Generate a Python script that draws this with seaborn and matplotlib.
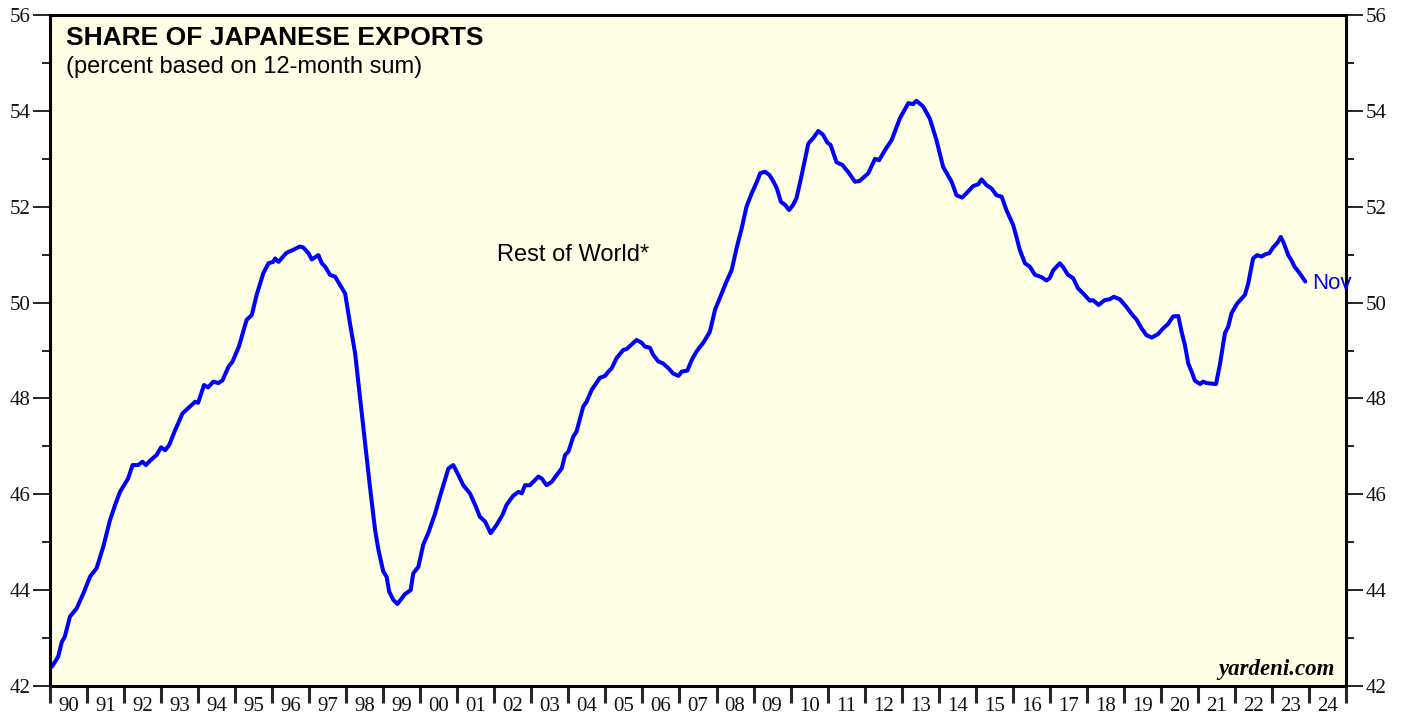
import matplotlib
matplotlib.use('Agg')
import matplotlib.pyplot as plt
import seaborn as sns
import pandas as pd
from matplotlib.ticker import MultipleLocator

# Rest of World share of Japanese exports (decimal years)
years = [
    1990.00, 1990.05, 1990.22, 1990.32, 1990.40, 1990.54, 1990.72, 1990.90, 1991.08, 1991.26,
    1991.44, 1991.62, 1991.76, 1991.89, 1992.11, 1992.23, 1992.38, 1992.50, 1992.59, 1992.70,
    1992.88, 1993.00, 1993.11, 1993.22, 1993.38, 1993.58, 1993.78, 1993.92, 1994.00, 1994.16,
    1994.27, 1994.41, 1994.55, 1994.66, 1994.82, 1994.93, 1995.10, 1995.31, 1995.45, 1995.58,
    1995.76, 1995.90, 1996.03, 1996.08, 1996.17, 1996.39, 1996.57, 1996.75, 1996.84, 1996.98,
    1997.07, 1997.25, 1997.34, 1997.43, 1997.56, 1997.70, 1997.83, 1997.97, 1998.10, 1998.24,
    1998.37, 1998.51, 1998.64, 1998.78, 1998.87, 1999.00, 1999.09, 1999.16, 1999.27, 1999.38,
    1999.50, 1999.59, 1999.74, 1999.81, 1999.95, 2000.08, 2000.22, 2000.40, 2000.53, 2000.64,
    2000.76, 2000.89, 2001.03, 2001.16, 2001.34, 2001.48, 2001.61, 2001.75, 2001.90, 2002.06,
    2002.22, 2002.33, 2002.51, 2002.65, 2002.74, 2002.83, 2002.96, 2003.05, 2003.19, 2003.28,
    2003.41, 2003.55, 2003.68, 2003.82, 2003.91, 2004.00, 2004.13, 2004.22, 2004.40, 2004.49,
    2004.63, 2004.85, 2004.99, 2005.08, 2005.17, 2005.30, 2005.48, 2005.57, 2005.71, 2005.84,
    2005.98, 2006.07, 2006.20, 2006.29, 2006.43, 2006.56, 2006.70, 2006.83, 2006.97, 2007.06,
    2007.21, 2007.33, 2007.46, 2007.64, 2007.82, 2007.96, 2008.14, 2008.27, 2008.41, 2008.54,
    2008.68, 2008.81, 2008.95, 2009.09, 2009.18, 2009.31, 2009.43, 2009.54, 2009.63, 2009.74,
    2009.85, 2009.96, 2010.07, 2010.16, 2010.30, 2010.48, 2010.61, 2010.75, 2010.88, 2010.99,
    2011.08, 2011.24, 2011.40, 2011.56, 2011.74, 2011.87, 2012.10, 2012.28, 2012.39, 2012.55,
    2012.73, 2012.95, 2013.18, 2013.31, 2013.40, 2013.58, 2013.76, 2013.94, 2014.12, 2014.35,
    2014.48, 2014.63, 2014.75, 2014.93, 2015.07, 2015.16, 2015.29, 2015.43, 2015.56, 2015.70,
    2015.83, 2016.01, 2016.10, 2016.19, 2016.33, 2016.46, 2016.60, 2016.78, 2016.91, 2017.00,
    2017.09, 2017.27, 2017.36, 2017.49, 2017.63, 2017.76, 2017.94, 2018.08, 2018.17, 2018.32,
    2018.48, 2018.62, 2018.73, 2018.89, 2019.07, 2019.21, 2019.34, 2019.48, 2019.61, 2019.75,
    2019.92, 2020.06, 2020.19, 2020.33, 2020.47, 2020.56, 2020.65, 2020.74, 2020.83, 2020.92,
    2021.06, 2021.14, 2021.24, 2021.49, 2021.60, 2021.73, 2021.82, 2021.91, 2022.06, 2022.27,
    2022.36, 2022.49, 2022.60, 2022.72, 2022.83, 2022.93, 2023.03, 2023.14, 2023.24, 2023.32,
    2023.44, 2023.52, 2023.61, 2023.75, 2023.90,
]
share = [
    42.40, 42.40, 42.61, 42.92, 43.03, 43.45, 43.62, 43.93, 44.28, 44.46,
    44.91, 45.46, 45.78, 46.05, 46.33, 46.61, 46.61, 46.68, 46.61, 46.70,
    46.82, 46.98, 46.92, 47.03, 47.34, 47.69, 47.83, 47.93, 47.91, 48.28,
    48.23, 48.35, 48.32, 48.38, 48.66, 48.77, 49.08, 49.64, 49.74, 50.16,
    50.61, 50.82, 50.85, 50.92, 50.85, 51.04, 51.10, 51.17, 51.15, 51.03,
    50.90, 50.99, 50.82, 50.75, 50.58, 50.54, 50.37, 50.19, 49.57, 48.94,
    48.04, 47.06, 46.16, 45.25, 44.84, 44.39, 44.28, 43.97, 43.80, 43.71,
    43.83, 43.92, 44.00, 44.35, 44.49, 44.95, 45.20, 45.60, 45.95, 46.23,
    46.54, 46.61, 46.40, 46.19, 46.02, 45.78, 45.53, 45.43, 45.19, 45.36,
    45.57, 45.78, 45.97, 46.05, 46.02, 46.19, 46.19, 46.26, 46.37, 46.33,
    46.19, 46.26, 46.40, 46.54, 46.82, 46.89, 47.20, 47.31, 47.83, 47.93,
    48.18, 48.43, 48.47, 48.56, 48.63, 48.84, 49.01, 49.03, 49.13, 49.22,
    49.16, 49.08, 49.06, 48.91, 48.77, 48.73, 48.63, 48.52, 48.47, 48.56,
    48.58, 48.80, 48.98, 49.16, 49.39, 49.85, 50.19, 50.44, 50.68, 51.13,
    51.55, 52.00, 52.28, 52.52, 52.70, 52.73, 52.66, 52.52, 52.38, 52.10,
    52.04, 51.93, 52.04, 52.18, 52.66, 53.32, 53.43, 53.58, 53.50, 53.34,
    53.29, 52.93, 52.87, 52.72, 52.52, 52.54, 52.70, 53.00, 52.97, 53.18,
    53.39, 53.84, 54.16, 54.14, 54.21, 54.09, 53.84, 53.39, 52.83, 52.52,
    52.24, 52.19, 52.28, 52.43, 52.47, 52.57, 52.45, 52.38, 52.24, 52.21,
    51.93, 51.62, 51.37, 51.10, 50.82, 50.75, 50.58, 50.53, 50.46, 50.51,
    50.67, 50.82, 50.74, 50.58, 50.51, 50.30, 50.16, 50.04, 50.05, 49.95,
    50.05, 50.07, 50.12, 50.07, 49.91, 49.76, 49.65, 49.46, 49.32, 49.27,
    49.34, 49.46, 49.55, 49.71, 49.72, 49.39, 49.11, 48.73, 48.56, 48.37,
    48.30, 48.35, 48.32, 48.30, 48.73, 49.36, 49.50, 49.78, 49.98, 50.16,
    50.40, 50.92, 50.99, 50.96, 51.01, 51.03, 51.15, 51.24, 51.37, 51.24,
    50.99, 50.89, 50.75, 50.61, 50.44,
]
year_labels = ['90', '91', '92', '93', '94', '95', '96', '97', '98', '99',
               '00', '01', '02', '03', '04', '05', '06', '07', '08', '09',
               '10', '11', '12', '13', '14', '15', '16', '17', '18', '19',
               '20', '21', '22', '23', '24']

df = pd.DataFrame({'year': years, 'share': share})

sns.set_style('ticks')
serif = 'Liberation Serif'
sans = 'Liberation Sans'

fig = plt.figure(figsize=(14.05, 7.17), dpi=100)
ax = fig.add_axes([50 / 1405, 1 - 686 / 717, 1296 / 1405, 671 / 717])
ax.set_facecolor('#FFFFE6')

sns.lineplot(data=df, x='year', y='share', ax=ax, color='#0000FF', linewidth=2.9,
             estimator=None, sort=False)
ax.lines[0].set_solid_capstyle('round')

ax.set_xlim(1990, 2025)
ax.set_ylim(42, 56)
ax.set_xlabel('')
ax.set_ylabel('')

# y axis: labelled every 2, minor every 1, on both sides
ax.yaxis.set_major_locator(MultipleLocator(2))
ax.yaxis.set_minor_locator(MultipleLocator(1))
ax.tick_params(axis='y', which='both', left=True, right=True, labelleft=True,
               labelright=True, direction='out', width=1.2, color='black')
ax.tick_params(axis='y', which='major', length=12, pad=2, labelsize=15,
               labelcolor='#111111')
ax.tick_params(axis='y', which='minor', length=6)
for lab in ax.get_yticklabels():
    lab.set_family(serif)

# x axis: year boundaries as ticks, labels centred between them
ax.set_xticks([y for y in range(1990, 2026)], [''] * 36)
ax.set_xticks([y + 0.5 for y in range(1990, 2025)], year_labels, minor=True)
ax.tick_params(axis='x', which='major', direction='out', length=12, width=2.2)
ax.tick_params(axis='x', which='minor', length=0, pad=8, labelsize=15,
               labelcolor='#111111')
for lab in ax.get_xticklabels(minor=True):
    lab.set_family(serif)

for side in ['left', 'right', 'top', 'bottom']:
    ax.spines[side].set_visible(True)
    ax.spines[side].set_color('black')
    ax.spines[side].set_linewidth(2.2)

ax.text(0.0123, 0.984, 'SHARE OF JAPANESE EXPORTS', transform=ax.transAxes,
        ha='left', va='top', fontsize=19, fontweight='bold', family=sans, color='black')
ax.text(0.0123, 0.939, '(percent based on 12-month sum)', transform=ax.transAxes,
        ha='left', va='top', fontsize=17, family=sans, color='black')
ax.text(2002.07, 50.99, 'Rest of World*', ha='left', va='center', fontsize=17,
        family=sans, color='black')
ax.text(2024.08, 50.39, 'Nov', ha='left', va='center', fontsize=16, color='#0000FF',
        family=sans, clip_on=False)
ax.text(0.9915, 0.025, 'yardeni.com', transform=ax.transAxes, ha='right',
        va='center', fontsize=16.5, fontweight='bold', fontstyle='italic',
        family=serif, color='black')

fig.savefig('out.png', dpi=100)
